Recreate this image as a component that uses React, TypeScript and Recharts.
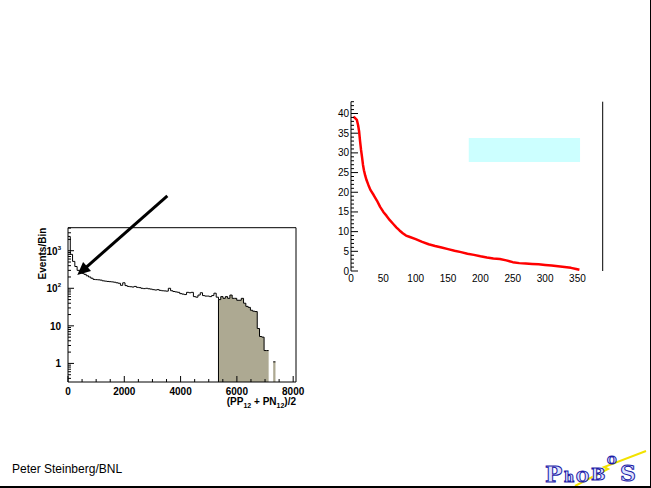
import React from 'react';
import {
  ComposedChart,
  LineChart,
  Line,
  Area,
  XAxis,
  YAxis,
  ReferenceLine,
  ReferenceArea,
  Label,
} from 'recharts';

const FONT = '"Liberation Sans", Arial, Helvetica, sans-serif';

// ---------- Left chart: histogram of (PP12 + PN12)/2 ----------
const BIN_WIDTH = 81; // 100 bins over 0..8100
const CUT_FIRST_BIN = 66; // shaded selection starts here
const eventCounts: (number | null)[] = [
  2400, 800, 520, 380, 300, 270, 250, 235, 215, 200,
  185, 172, 170, 168, 165, 158, 155, 152, 150, 148,
  145, 140, 136, 120, 140, 118, 112, 110, 108, 112,
  106, 104, 100, 98, 100, 97, 95, 92, 90, 92,
  88, 86, 85, 84, 100, 86, 82, 80, 78, 72,
  70, 68, 78, 76, 78, 60, 58, 66, 76, 64,
  62, 62, 60, 64, 74, 58, 50, 60, 54, 60,
  54, 66, 54, 54, 48, 48, 54, 40, 33, 31,
  26, 24.5, 24, 8.5, 5.2, 5.0, 2.2, 2.2, null, null,
  1.1, null, null, null, null, null, null, null, null, null,
];
const histXTicks = [0, 500, 1000, 1500, 2000, 2500, 3000, 3500, 4000, 4500, 5000, 5500, 6000, 6500, 7000, 7500, 8000];
const histXLabels = [0, 2000, 4000, 6000, 8000];
const histYTicks = [
  0.4, 0.5, 0.6, 0.7, 0.8, 0.9,
  1, 2, 3, 4, 5, 6, 7, 8, 9,
  10, 20, 30, 40, 50, 60, 70, 80, 90,
  100, 200, 300, 400, 500, 600, 700, 800, 900,
  1000, 2000, 3000, 4000,
];
const HIST_X_DOMAIN: [number, number] = [0, 8100];
const HIST_Y_DOMAIN: [number, number] = [0.32, 4100];
const ARROW_TAIL = { x: 3530, y: 28800 };
const ARROW_TIP = { x: 330, y: 225 };

// ---------- Right chart: red curve ----------
const curveX = [3.5, 6, 9, 11, 12.5, 14, 15.5, 17, 18.5, 20, 22, 24, 27, 30, 35, 40, 45, 50, 55, 60, 65, 70, 75, 80, 85, 90, 100, 110, 120, 130, 140, 150, 160, 170, 180, 190, 200, 210, 220, 230, 240, 250, 260, 270, 280, 290, 300, 310, 320, 330, 340, 348, 353];
const curveY = [39.2, 38.9, 38.4, 37, 35.5, 33, 30.8, 29, 27, 25.6, 24.2, 23.1, 21.8, 20.6, 19.3, 17.9, 16.3, 15, 14, 12.9, 12, 11.1, 10.3, 9.6, 9.0, 8.7, 8.1, 7.4, 6.8, 6.35, 5.95, 5.55, 5.15, 4.8, 4.4, 4.1, 3.75, 3.45, 3.2, 3.05, 2.7, 2.25, 2.0, 1.9, 1.8, 1.7, 1.55, 1.4, 1.2, 1.0, 0.8, 0.5, 0.3];
const curveXTicks = [0, 50, 100, 150, 200, 250, 300, 350];
const curveYMajor = [0, 5, 10, 15, 20, 25, 30, 35, 40];
const curveYTicks = [0, 1, 2, 3, 4, 5, 6, 7, 8, 9, 10, 11, 12, 13, 14, 15, 16, 17, 18, 19, 20, 21, 22, 23, 24, 25, 26, 27, 28, 29, 30, 31, 32, 33, 34, 35, 36, 37, 38, 39, 40, 41, 42, 43];
const CURVE_X_DOMAIN: [number, number] = [0, 389];
const CURVE_Y_DOMAIN: [number, number] = [0, 43];
const BOX = { x1: 182, x2: 354, y1: 27.7, y2: 33.8 };

// ---------- Table building ----------
const histRows: { x: number; all: number | null; cut: number | null }[] = [];
eventCounts.forEach((v, i) => {
  const cut = i >= CUT_FIRST_BIN ? v : null;
  histRows.push({ x: i * BIN_WIDTH, all: v, cut });
  histRows.push({ x: (i + 1) * BIN_WIDTH, all: v, cut });
});
const CUT_LOW = CUT_FIRST_BIN * BIN_WIDTH;
const cutFirstValue = eventCounts[CUT_FIRST_BIN] as number;

const curveRows = curveX.map((x, i) => ({ x, y: curveY[i] }));

// ---------- Tick renderers ----------
const HistXTick = (props: any) => {
  const { x, y, payload } = props;
  const v = payload.value as number;
  const labeled = histXLabels.includes(v);
  return (
    <g>
      <line x1={x} y1={y} x2={x} y2={y - (labeled ? 6 : 3)} stroke="#000" strokeWidth={1} />
      {labeled && (
        <text x={x} y={y + 13} textAnchor="middle" fontSize={10} fontWeight="bold" fontFamily={FONT} fill="#000">
          {v}
        </text>
      )}
    </g>
  );
};

const HistYTick = (props: any) => {
  const { x, y, payload } = props;
  const v = payload.value as number;
  const lg = Math.log10(v);
  const e = Math.round(lg);
  const major = Math.abs(lg - e) < 1e-6;
  let label: React.ReactNode = null;
  if (major) {
    if (e === 0) label = <tspan>1</tspan>;
    else if (e === 1) label = <tspan>10</tspan>;
    else
      label = (
        <>
          <tspan>10</tspan>
          <tspan dy={-5} fontSize={6}>
            {e}
          </tspan>
        </>
      );
  }
  return (
    <g>
      <line x1={x} y1={y} x2={x + (major ? 6 : 3)} y2={y} stroke="#000" strokeWidth={1} />
      {major && (
        <text x={x - 7} y={y + 4} textAnchor="end" fontSize={10} fontWeight="bold" fontFamily={FONT} fill="#000">
          {label}
        </text>
      )}
    </g>
  );
};

const CurveXTick = (props: any) => {
  const { x, y, payload } = props;
  return (
    <text x={x} y={y + 11} textAnchor="middle" fontSize={10} fontFamily={FONT} fill="#000">
      {payload.value}
    </text>
  );
};

const CurveYTick = (props: any) => {
  const { x, y, payload } = props;
  const v = payload.value as number;
  const major = curveYMajor.includes(v);
  return (
    <g>
      <line x1={x} y1={y} x2={x + (major ? 7 : 3)} y2={y} stroke="#000" strokeWidth={1} />
      {major && (
        <text x={x - 2} y={y + 3.5} textAnchor="end" fontSize={10} fontFamily={FONT} fill="#000">
          {v}
        </text>
      )}
    </g>
  );
};

const XTitle = (props: any) => {
  const vb = props.viewBox || {};
  return (
    <text x={vb.x + vb.width} y={vb.y + 23} textAnchor="end" fontSize={10} fontWeight="bold" fontFamily={FONT} fill="#000">
      <tspan>(PP</tspan>
      <tspan dy={3} fontSize={7}>12</tspan>
      <tspan dy={-3}> + PN</tspan>
      <tspan dy={3} fontSize={7}>12</tspan>
      <tspan dy={-3}>)/2</tspan>
    </text>
  );
};

const YTitle = (props: any) => {
  const vb = props.viewBox || {};
  return (
    <text
      transform={`translate(${vb.x + 46},${vb.y}) rotate(-90)`}
      textAnchor="end"
      fontSize={10}
      fontWeight="bold"
      fontFamily={FONT}
      fill="#000"
    >
      Events/Bin
    </text>
  );
};

const ArrowShape = (props: any) => {
  const { x1, y1, x2, y2 } = props;
  const dx = x2 - x1;
  const dy = y2 - y1;
  const len = Math.hypot(dx, dy) || 1;
  const ux = dx / len;
  const uy = dy / len;
  const headLen = 13;
  const headHalf = 6;
  const bx = x2 - ux * headLen;
  const by = y2 - uy * headLen;
  const px = -uy;
  const py = ux;
  return (
    <g>
      <line x1={x1} y1={y1} x2={bx + ux * 2} y2={by + uy * 2} stroke="#000" strokeWidth={3} />
      <polygon
        points={`${x2},${y2} ${bx + px * headHalf},${by + py * headHalf} ${bx - px * headHalf},${by - py * headHalf}`}
        fill="#000"
      />
    </g>
  );
};

const HistogramChart = () => (
  <ComposedChart width={320} height={250} data={histRows} margin={{ top: 56.7, right: 23, bottom: 8, left: 0 }}>
    <XAxis
      xAxisId="b"
      dataKey="x"
      type="number"
      domain={HIST_X_DOMAIN}
      allowDataOverflow
      ticks={histXTicks}
      interval={0}
      tickSize={0}
      tickMargin={0}
      tickLine={false}
      axisLine={{ stroke: '#000' }}
      height={30}
      tick={HistXTick}
    >
      <Label content={XTitle} />
    </XAxis>
    <XAxis
      xAxisId="t"
      orientation="top"
      dataKey="x"
      type="number"
      domain={HIST_X_DOMAIN}
      allowDataOverflow
      tick={false}
      tickLine={false}
      axisLine={{ stroke: '#000' }}
      height={1}
    />
    <YAxis
      yAxisId="l"
      type="number"
      scale="log"
      domain={HIST_Y_DOMAIN}
      allowDataOverflow
      ticks={histYTicks}
      interval={0}
      tickSize={0}
      tickMargin={0}
      tickLine={false}
      width={68}
      axisLine={{ stroke: '#000' }}
      tick={HistYTick}
    >
      <Label content={YTitle} />
    </YAxis>
    <YAxis
      yAxisId="r"
      orientation="right"
      type="number"
      scale="log"
      domain={HIST_Y_DOMAIN}
      allowDataOverflow
      tick={false}
      tickLine={false}
      width={1}
      axisLine={{ stroke: '#000' }}
    />
    <Area
      xAxisId="b"
      yAxisId="l"
      dataKey="cut"
      type="linear"
      fill="#ada992"
      fillOpacity={1}
      stroke="none"
      baseValue={HIST_Y_DOMAIN[0]}
      dot={false}
      activeDot={false}
      isAnimationActive={false}
    />
    <Line
      xAxisId="b"
      yAxisId="l"
      dataKey="all"
      type="linear"
      stroke="#000"
      strokeWidth={1}
      dot={false}
      activeDot={false}
      isAnimationActive={false}
    />
    <ReferenceLine
      xAxisId="b"
      yAxisId="l"
      segment={[
        { x: CUT_LOW, y: HIST_Y_DOMAIN[0] },
        { x: CUT_LOW, y: cutFirstValue },
      ]}
      stroke="#000"
      strokeWidth={1}
    />
    <ReferenceLine
      xAxisId="b"
      yAxisId="l"
      segment={[ARROW_TAIL, ARROW_TIP]}
      ifOverflow="visible"
      shape={ArrowShape}
    />
  </ComposedChart>
);

const CurveChart = () => (
  <LineChart width={300} height={200} data={curveRows} margin={{ top: 11.7, right: 16.3, bottom: 0, left: 0 }}>
    <XAxis
      dataKey="x"
      type="number"
      domain={CURVE_X_DOMAIN}
      allowDataOverflow
      ticks={curveXTicks}
      interval={0}
      tickSize={0}
      tickMargin={0}
      axisLine={false}
      tickLine={false}
      height={19}
      tick={CurveXTick}
    />
    <YAxis
      yAxisId="l"
      type="number"
      domain={CURVE_Y_DOMAIN}
      allowDataOverflow
      ticks={curveYTicks}
      interval={0}
      tickSize={0}
      tickMargin={0}
      tickLine={false}
      width={31}
      axisLine={{ stroke: '#000' }}
      tick={CurveYTick}
    />
    <YAxis
      yAxisId="r"
      orientation="right"
      type="number"
      domain={CURVE_Y_DOMAIN}
      allowDataOverflow
      tick={false}
      tickLine={false}
      width={1}
      axisLine={{ stroke: '#000' }}
    />
    <ReferenceArea
      yAxisId="l"
      x1={BOX.x1}
      x2={BOX.x2}
      y1={BOX.y1}
      y2={BOX.y2}
      fill="#ccffff"
      fillOpacity={1}
      stroke="none"
    />
    <Line
      yAxisId="l"
      dataKey="y"
      type="linear"
      stroke="#ff0000"
      strokeWidth={2.5}
      strokeLinejoin="round"
      dot={false}
      activeDot={false}
      isAnimationActive={false}
    />
  </LineChart>
);

const LOGO_FONT = '"DejaVu Serif", serif';
const Logo = () => (
  <svg width={120} height={52} style={{ position: 'absolute', left: 528, top: 436 }}>
    <path d="M 47 50 L 80 33 L 76 31 L 118 15" stroke="#f2e200" strokeWidth={2} fill="none" />
    <g fontFamily={LOGO_FONT} fontWeight="bold" fill="#dde4ff" stroke="#1c1ca8" strokeWidth={1}>
      <text x={17} y={46} fontSize={23}>P</text>
      <text x={36} y={46} fontSize={14}>h</text>
      <text x={48} y={46} fontSize={15}>O</text>
      <text x={63} y={44} fontSize={17}>B</text>
      <text x={79} y={28} fontSize={11}>O</text>
      <text x={92} y={45} fontSize={22}>S</text>
    </g>
  </svg>
);

export default function App() {
  return (
    <div
      style={{
        position: 'absolute',
        left: 0,
        top: 0,
        width: 651,
        height: 488,
        background: '#fff',
        overflow: 'hidden',
        boxSizing: 'border-box',
        borderRight: '1px solid #000',
        borderBottom: '2px solid #000',
        fontFamily: FONT,
      }}
    >
      <div style={{ position: 'absolute', left: 0, top: 170 }}>
        <HistogramChart />
      </div>
      <div style={{ position: 'absolute', left: 320, top: 90 }}>
        <CurveChart />
      </div>
      <div
        style={{
          position: 'absolute',
          left: 12,
          top: 462,
          fontSize: 12,
          fontFamily: FONT,
          color: '#000',
          whiteSpace: 'nowrap',
        }}
      >
        Peter Steinberg/BNL
      </div>
      <Logo />
    </div>
  );
}
